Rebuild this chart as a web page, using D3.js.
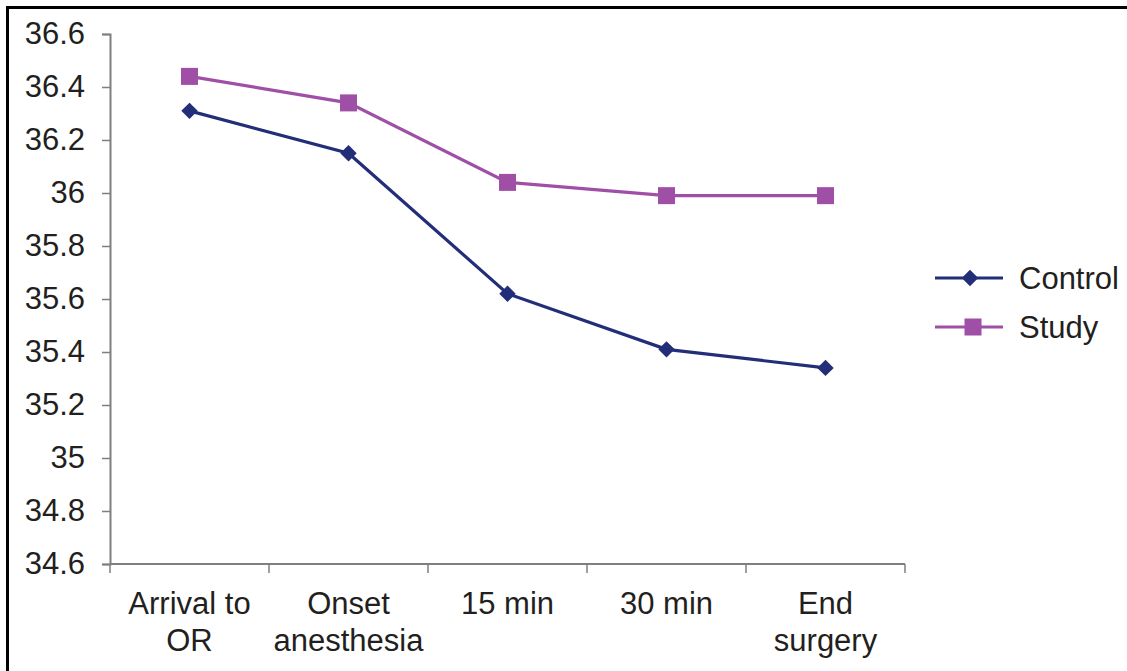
<!DOCTYPE html>
<html>
<head>
<meta charset="utf-8">
<script src="https://cdn.jsdelivr.net/npm/d3@7"></script>
<style>
  html, body { margin: 0; padding: 0; background: #fff; }
  svg { display: block; }
  text { font-family: "Liberation Sans", Arial, sans-serif; fill: #231f20; }
</style>
</head>
<body>
<svg id="chart" width="1127" height="671"></svg>
<script>
const categories = [["Arrival to", "OR"], ["Onset", "anesthesia"], ["15 min"], ["30 min"], ["End", "surgery"]];
const controlValues = [36.31, 36.15, 35.62, 35.41, 35.34];
const studyValues = [36.44, 36.34, 36.04, 35.99, 35.99];
const yTicks = [34.6, 34.8, 35, 35.2, 35.4, 35.6, 35.8, 36, 36.2, 36.4, 36.6];
const seriesNames = ["Control", "Study"];

const svg = d3.select("#chart");
const W = 1127, H = 671;
const margin = { left: 110, right: 222, top: 34, bottom: 107 };
const fontSize = "31px";

// frame (top and left edges only, as in the reference)
svg.append("line").attr("x1", 7).attr("x2", W).attr("y1", 7.5).attr("y2", 7.5)
  .attr("stroke", "#000").attr("stroke-width", 3);
svg.append("line").attr("x1", 7.5).attr("x2", 7.5).attr("y1", 6).attr("y2", H)
  .attr("stroke", "#000").attr("stroke-width", 3);

const x = d3.scaleBand().domain(d3.range(categories.length))
  .range([margin.left, W - margin.right]).padding(0);
const y = d3.scaleLinear().domain([34.6, 36.6]).range([H - margin.bottom, margin.top]);

const axisColor = "#7f7f7f";

// Y axis
const yAxis = svg.append("g").attr("transform", `translate(${margin.left},0)`)
  .call(d3.axisLeft(y).tickValues(yTicks).tickSize(8).tickPadding(17)
    .tickFormat(d => d3.format("~g")(d)));
yAxis.select(".domain").attr("stroke", axisColor).attr("stroke-width", 2);
yAxis.selectAll(".tick line").attr("stroke", axisColor).attr("stroke-width", 1.5);
yAxis.selectAll("text").style("font-size", fontSize).style("fill", "#231f20")
  .attr("font-family", null);

// X axis with ticks at band boundaries
const xAxisG = svg.append("g").attr("transform", `translate(0,${H - margin.bottom})`);
xAxisG.append("line").attr("x1", margin.left).attr("x2", W - margin.right)
  .attr("y1", 0).attr("y2", 0).attr("stroke", axisColor).attr("stroke-width", 2);
const bounds = d3.range(categories.length + 1).map(i =>
  i < categories.length ? x(i) : x(categories.length - 1) + x.bandwidth());
xAxisG.selectAll(".xt").data(bounds).join("line")
  .attr("x1", d => d).attr("x2", d => d).attr("y1", 0).attr("y2", 9)
  .attr("stroke", axisColor).attr("stroke-width", 1.5);
const labels = xAxisG.selectAll(".xl").data(categories).join("text")
  .attr("text-anchor", "middle")
  .attr("transform", (d, i) => `translate(${x(i) + x.bandwidth() / 2},0)`)
  .style("font-size", fontSize);
labels.each(function(lines) {
  d3.select(this).selectAll("tspan").data(lines).join("tspan")
    .attr("x", 0).attr("y", (d, j) => 50 + j * 37).text(d => d);
});

const cx = i => x(i) + x.bandwidth() / 2;
const line = d3.line().x((d, i) => cx(i)).y(d => y(d));

const colors = { Control: "#232e78", Study: "#a04fa6" };
const diamondSym = d3.symbol().type(d3.symbolSquare).size(135);

// Study series
svg.append("path").datum(studyValues).attr("d", line)
  .attr("fill", "none").attr("stroke", colors.Study).attr("stroke-width", 3.2);
svg.selectAll(".sq").data(studyValues).join("rect")
  .attr("x", (d, i) => cx(i) - 8.5).attr("y", d => y(d) - 8.5)
  .attr("width", 17).attr("height", 17).attr("fill", colors.Study);

// Control series
svg.append("path").datum(controlValues).attr("d", line)
  .attr("fill", "none").attr("stroke", colors.Control).attr("stroke-width", 3.2);
svg.selectAll(".dm").data(controlValues).join("path")
  .attr("d", diamondSym)
  .attr("transform", (d, i) => `translate(${cx(i)},${y(d)}) rotate(45)`)
  .attr("fill", colors.Control);

// Legend
const legend = svg.append("g");
const legY = [278, 327];
seriesNames.forEach((name, k) => {
  const g = legend.append("g").attr("transform", `translate(0,${legY[k]})`);
  g.append("line").attr("x1", 935).attr("x2", 1003).attr("y1", 0).attr("y2", 0)
    .attr("stroke", colors[name]).attr("stroke-width", 3.2);
  if (name === "Control") {
    g.append("path").attr("d", diamondSym)
      .attr("transform", "translate(970,0) rotate(45)").attr("fill", colors[name]);
  } else {
    g.append("rect").attr("x", 964.5).attr("y", -8.5).attr("width", 17).attr("height", 17)
      .attr("fill", colors[name]);
  }
  g.append("text").attr("x", 1019).attr("y", 0).attr("dy", "0.35em")
    .style("font-size", fontSize).text(name);
});
</script>
</body>
</html>
